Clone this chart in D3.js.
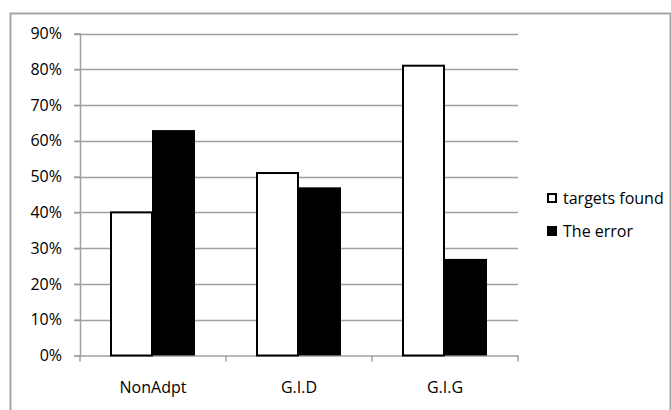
<!DOCTYPE html>
<html>
<head>
<meta charset="utf-8">
<script src="https://cdn.jsdelivr.net/npm/d3@7"></script>
<style>
  body { margin: 0; background: #fff; }
  svg { display: block; font-family: "Open Sans", "Liberation Sans", sans-serif; }
  svg text { fill: #000; }
</style>
</head>
<body>
<div id="container"></div>
<script>
// chart values
let categories = ["NonAdpt", "G.I.D", "G.I.G"];
let seriesNames = ["targets found", "The error"];
let targetsFound = [0.40, 0.51, 0.81];
let theError = [0.63, 0.47, 0.27];
let yTicks = [0, 0.1, 0.2, 0.3, 0.4, 0.5, 0.6, 0.7, 0.8, 0.9];

let w = 671;
let h = 410;

let viz = d3.select("#container")
    .append("svg")
    .attr("width", w)
    .attr("height", h);

// outer chart frame
viz.append("rect")
    .attr("x", 10.5).attr("y", 13.5)
    .attr("width", 660).attr("height", 420)
    .attr("fill", "none")
    .attr("stroke", "#a6a6a6")
    .attr("stroke-width", 2);

// plot area edges (don't call it "top", that's window.top)
let plotLeft = 80, plotRight = 518, plotTop = 33.5, plotBottom = 355.5;

let xScale = d3.scaleBand()
    .domain(categories)
    .range([plotLeft, plotRight]);

let yScale = d3.scaleLinear()
    .domain([0, 0.9])
    .range([plotBottom, plotTop]);

// gridlines
viz.append("g").selectAll("line")
    .data(yTicks.slice(1))
    .enter().append("line")
    .attr("x1", plotLeft - 6).attr("x2", plotRight)
    .attr("y1", d => Math.round(yScale(d)) + 0.5)
    .attr("y2", d => Math.round(yScale(d)) + 0.5)
    .attr("stroke", "#a0a0a0")
    .attr("stroke-width", 1.5);

// y axis
let yAxis = d3.axisLeft(yScale)
    .tickValues(yTicks)
    .tickFormat(d3.format(".0%"))
    .tickSize(6)
    .tickPadding(12);
let yAxisGroup = viz.append("g")
    .attr("transform", "translate(" + plotLeft + ",0)")
    .call(yAxis);
yAxisGroup.attr("font-size", 16).attr("font-family", null);
yAxisGroup.select(".domain").attr("stroke", "#a0a0a0").attr("stroke-width", 1.5);
yAxisGroup.selectAll(".tick line").attr("stroke", "#a0a0a0").attr("stroke-width", 1.5);
yAxisGroup.selectAll(".tick text").attr("font-size", 16);

// x axis
let xAxis = d3.axisBottom(xScale).tickSize(0).tickPadding(26);
let xAxisGroup = viz.append("g")
    .attr("transform", "translate(0," + plotBottom + ")")
    .call(xAxis);
xAxisGroup.attr("font-size", 16).attr("font-family", null);
xAxisGroup.select(".domain").attr("stroke", "#a0a0a0").attr("stroke-width", 1.5);
// boundary ticks between the categories
xAxisGroup.selectAll(".sep")
    .data(categories.map(c => xScale(c)).concat([plotRight]))
    .enter().append("line")
    .attr("x1", d => d).attr("x2", d => d)
    .attr("y1", 0).attr("y2", 6)
    .attr("stroke", "#a0a0a0").attr("stroke-width", 1.5);

// bars
let barW = 41;
let graphGroup = viz.append("g");
let groups = graphGroup.selectAll(".datapoint")
    .data(categories)
    .enter().append("g")
    .classed("datapoint", true)
    .attr("transform", d => "translate(" + (xScale(d) + xScale.bandwidth() / 2) + ",0)");

groups.append("rect")
    .attr("x", -barW - 1)
    .attr("y", (d, i) => yScale(targetsFound[i]))
    .attr("width", barW)
    .attr("height", (d, i) => plotBottom - yScale(targetsFound[i]))
    .attr("fill", "#fff")
    .attr("stroke", "#000")
    .attr("stroke-width", 2);

groups.append("rect")
    .attr("x", -1)
    .attr("y", (d, i) => yScale(theError[i]))
    .attr("width", barW + 2)
    .attr("height", (d, i) => plotBottom - yScale(theError[i]))
    .attr("fill", "#000");

// legend
let legend = viz.append("g").attr("transform", "translate(547,0)");
let legendY = [198, 231];
seriesNames.forEach(function(name, i) {
    legend.append("rect")
        .attr("x", i == 0 ? 1 : 0)
        .attr("y", legendY[i] - 5 + (i == 0 ? 1 : 0))
        .attr("width", i == 0 ? 8 : 10)
        .attr("height", i == 0 ? 8 : 10)
        .attr("fill", i == 0 ? "#fff" : "#000")
        .attr("stroke", "#000")
        .attr("stroke-width", i == 0 ? 2 : 0);
    legend.append("text")
        .attr("x", 16)
        .attr("y", legendY[i] + 6)
        .attr("font-size", 16)
        .text(name);
});
</script>
</body>
</html>
